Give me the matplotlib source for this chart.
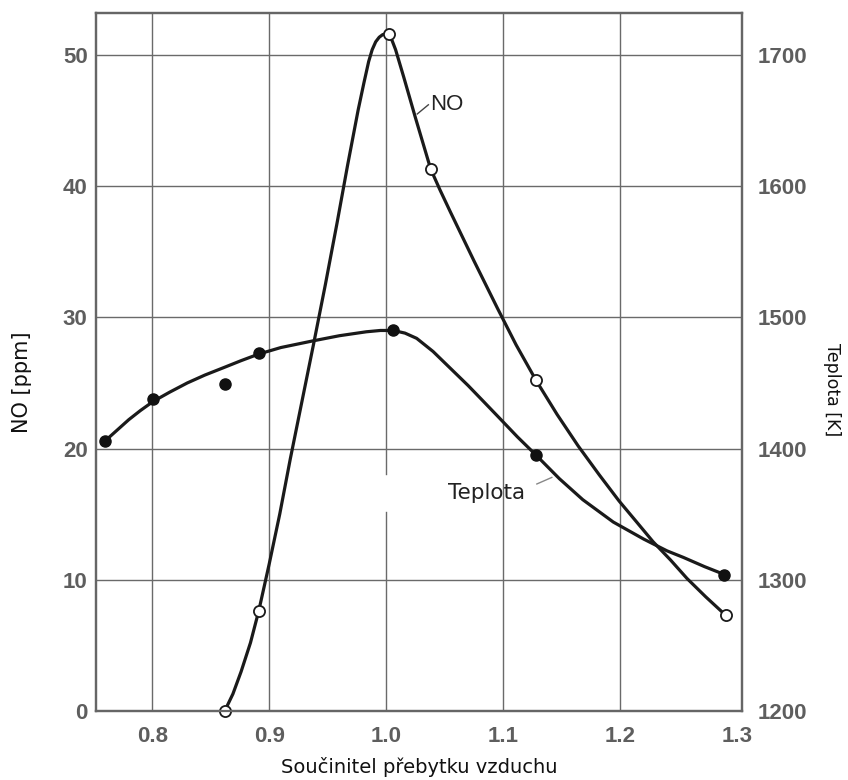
import matplotlib
matplotlib.use("Agg")
import matplotlib.pyplot as plt

no_x = [0.862, 0.891, 1.002, 1.038, 1.128, 1.290]
no_y = [0.0, 7.6, 51.6, 41.3, 25.2, 7.3]

temp_x = [0.760, 0.801, 0.862, 0.891, 1.006, 1.128, 1.289]
temp_y = [1406, 1438, 1449, 1473, 1490, 1395, 1304]

# hand-drawn curves
no_curve_x = [0.862, 0.869, 0.876, 0.884, 0.891, 0.900, 0.909, 0.918, 0.928,
              0.938, 0.948, 0.958, 0.967, 0.976, 0.981, 0.985, 0.988, 0.991,
              0.994, 0.997, 1.000, 1.002, 1.005, 1.008, 1.015, 1.025, 1.038,
              1.046, 1.055, 1.075, 1.095, 1.111, 1.128, 1.146, 1.164, 1.182,
              1.199, 1.214, 1.228, 1.243, 1.257, 1.273, 1.290]
no_curve_y = [0.0, 1.3, 3.0, 5.2, 7.6, 11.2, 15.0, 19.2, 23.6,
              28.0, 32.5, 37.2, 41.6, 45.8, 47.9, 49.5, 50.4, 51.0,
              51.35, 51.55, 51.6, 51.5, 51.1, 50.4, 48.3, 45.2, 41.3,
              39.7, 38.0, 34.3, 30.7, 27.9, 25.2, 22.6, 20.2, 18.0,
              16.0, 14.4, 12.9, 11.5, 10.1, 8.7, 7.3]

temp_curve_x = [0.760, 0.770, 0.780, 0.790, 0.801, 0.815, 0.830, 0.845, 0.862,
                0.876, 0.891, 0.910, 0.937, 0.960, 0.983, 0.995, 1.006, 1.016,
                1.026, 1.040, 1.055, 1.070, 1.083, 1.097, 1.112, 1.128, 1.148,
                1.168, 1.194, 1.220, 1.240, 1.254, 1.272, 1.289]
temp_curve_y = [1406, 1414, 1422, 1429, 1436, 1443, 1450, 1456, 1462,
                1467, 1472, 1477, 1482, 1486, 1489, 1490, 1490, 1488,
                1484, 1474, 1461, 1448, 1436, 1423, 1409, 1395, 1377,
                1361, 1344, 1331, 1322, 1317, 1310, 1304]

x_ticks = [0.8, 0.9, 1.0, 1.1, 1.2, 1.3]
x_ticklabels = ["0.8", "0.9", "1.0", "1.1", "1.2", "1.3"]
no_ticks = [0, 10, 20, 30, 40, 50]
temp_ticks = [1200, 1300, 1400, 1500, 1600, 1700]

tick_font = dict(family="Liberation Sans", size=16, color="#5e5e5e",
                 weight="bold")
grid_col = "#6a6a6a"
ink = "#1a1a1a"

fig = plt.figure(figsize=(8.48, 7.8), dpi=100)
ax = fig.add_axes([0.1132, 0.0885, 0.7618, 0.8949])
ax2 = ax.twinx()

ax.set_xlim(0.752, 1.304)
ax.set_ylim(0, 53.2)
ax2.set_ylim(1200, 1732)

# grid (the 1.0 line has a small break in the scan)
for xv in x_ticks[:-1]:
    if xv == 1.0:
        ax.axvline(xv, ymin=0, ymax=0.285, color=grid_col, lw=1.0, zorder=1)
        ax.axvline(xv, ymin=0.34, ymax=1, color=grid_col, lw=1.0, zorder=1)
    else:
        ax.axvline(xv, color=grid_col, lw=1.0, zorder=1)
for yv in no_ticks[1:]:
    ax.axhline(yv, color=grid_col, lw=1.0, zorder=1)

# NO curve
ax.plot(no_curve_x, no_curve_y, color=ink, lw=2.3, zorder=3,
        solid_joinstyle="round", solid_capstyle="round", clip_on=False)
ax.plot(no_x, no_y, "o", ms=8, mfc="white", mec=ink, mew=1.3,
        zorder=5, clip_on=False)

# temperature curve
ax2.plot(temp_curve_x, temp_curve_y, color=ink, lw=2.3, zorder=3,
         solid_joinstyle="round", solid_capstyle="round")
ax2.plot(temp_x, temp_y, "o", ms=8, color="#111111", zorder=5)

# labels on curves
ax.text(1.0376, 46.2, "NO", ha="left", va="center",
        family="Liberation Sans", size=16, color="#222222")
ax.plot([1.0265, 1.036], [45.5, 46.2], color="#444444", lw=1)
ax.text(1.1188, 16.6, "Teplota", ha="right", va="center",
        family="DejaVu Sans", size=15.5, color="#222222")
ax.plot([1.1287, 1.1415], [17.3, 17.8], color="#888888", lw=1)

# ticks
ax.set_xticks(x_ticks)
ax.set_xticklabels(x_ticklabels, fontdict=tick_font)
ax.set_yticks(no_ticks)
ax.set_yticklabels([str(v) for v in no_ticks], fontdict=tick_font)
ax2.set_yticks(temp_ticks)
ax2.set_yticklabels([str(v) for v in temp_ticks], fontdict=tick_font)
ax.tick_params(axis="x", length=0, pad=11)
ax.tick_params(axis="y", length=0, pad=6)
ax2.tick_params(axis="y", length=0, pad=11)

for a in (ax, ax2):
    for s in a.spines.values():
        s.set_color("#666666")
        s.set_linewidth(1.6)

ax.set_xlabel("Součinitel přebytku vzduchu", family="DejaVu Sans", size=14,
              color="#111111")
ax.xaxis.set_label_coords(0.5, -0.080)
ax.xaxis.label.set_va("center")
ax.set_ylabel("NO [ppm]", family="DejaVu Sans", size=15, color="#111111")
ax.yaxis.set_label_coords(-0.1146, 0.471)
ax.yaxis.label.set_va("center")
ax2.set_ylabel("Teplota [K]", family="DejaVu Sans", size=12.5,
               color="#111111", rotation=-90)
ax2.yaxis.set_label_coords(1.139, 0.461)
ax2.yaxis.label.set_va("center")

fig.savefig("out.png", dpi=100)
